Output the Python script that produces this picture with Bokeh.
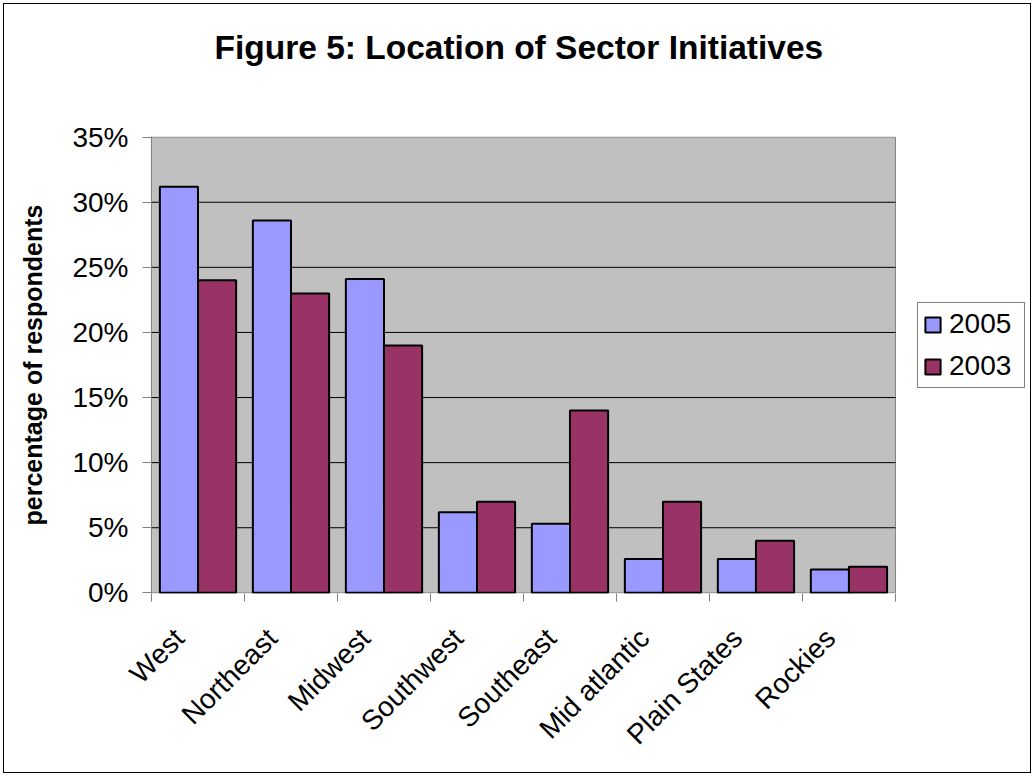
import math
from bokeh.plotting import figure
from bokeh.models import (ColumnDataSource, FixedTicker, NumeralTickFormatter, Legend,
                          LegendItem, LinearAxis, Range1d, InlineStyleSheet, Title)
from bokeh.transform import dodge
from bokeh.embed import file_html
from bokeh.resources import INLINE

# ---- data ----
categories = ["West", "Northeast", "Midwest", "Southwest", "Southeast",
              "Mid atlantic", "Plain States", "Rockies"]
series_names = ["2005", "2003"]
values_2005 = [0.312, 0.286, 0.241, 0.062, 0.053, 0.026, 0.026, 0.018]
values_2003 = [0.240, 0.230, 0.190, 0.070, 0.140, 0.070, 0.040, 0.020]
y_ticks = [0.0, 0.05, 0.10, 0.15, 0.20, 0.25, 0.30, 0.35]
title_text = "Figure 5: Location of Sector Initiatives"
y_label = "percentage of respondents"

FONT = "Liberation Sans"
GRAY = "#808080"
PLOT_BG = "#C0C0C0"

n = len(categories)
y_min, y_max = y_ticks[0], y_ticks[-1]
centers = [i + 0.5 for i in range(n)]
edges = list(range(n + 1))
legend_space = 1.42          # extra room (in category widths) right of the plot area
source = ColumnDataSource(data=dict(cat=categories, pos=centers,
                                    v2005=values_2005, v2003=values_2003))
grid_src = ColumnDataSource(data=dict(y=y_ticks[1:-1]))

pad = 0.0005
p = figure(width=1034, height=776,
           x_range=Range1d(0, n + legend_space), y_range=Range1d(y_min - pad, y_max + pad),
           output_backend="svg", toolbar_location=None, x_axis_type=None,
           min_border_left=151, min_border_right=7, min_border_top=136,
           min_border_bottom=183)
p.background_fill_color = "white"
p.border_fill_color = "white"
p.border_fill_alpha = 0
p.outline_line_color = None
p.grid.grid_line_color = None
p.stylesheets = [InlineStyleSheet(css=":host { outline: 1px solid black; outline-offset: -4px; background: white; }")]

# title (a thin spacer title between frame and main title lifts it up)
spacer = Title(text=" ", text_font_size="1px", standoff=68)
main_title = Title(text=title_text, align="left", offset=63, text_font=FONT,
                   text_font_size="33.5px", text_font_style="bold",
                   text_color="black", standoff=0)
p.title = None
p.above = [spacer, main_title]

# plot area (grey box) and gridlines, limited to the category span
p.quad(left=0, right=n, bottom=y_min, top=y_max, fill_color=PLOT_BG,
       line_color=GRAY, line_width=1)
p.segment(x0=0, x1=n, y0="y", y1="y", source=grid_src, line_color="black", line_width=1)

# bars
w = 0.41
r1 = p.vbar(x=dodge("pos", -w / 2), top="v2005", width=w, source=source,
            fill_color="#9999FF", line_color="black", line_width=2)
r2 = p.vbar(x=dodge("pos", w / 2), top="v2003", width=w, source=source,
            fill_color="#993366", line_color="black", line_width=2)

# y axis
ya = p.yaxis[0]
ya.ticker = FixedTicker(ticks=y_ticks)
ya.formatter = NumeralTickFormatter(format="0%")
ya.axis_line_color = GRAY
ya.major_tick_line_color = GRAY
ya.minor_tick_line_color = None
ya.major_tick_out = 9
ya.major_tick_in = 0
ya.major_label_standoff = 14
ya.major_label_text_font = FONT
ya.major_label_text_font_size = "28px"
ya.major_label_text_color = "black"
ya.axis_label = y_label
ya.axis_label_text_font = FONT
ya.axis_label_text_font_size = "25px"
ya.axis_label_text_font_style = "bold"
ya.axis_label_text_color = "black"
ya.axis_label_standoff = 22

# x axis: tick-only axis (ticks between categories) + label axis
ea = LinearAxis(ticker=FixedTicker(ticks=edges),
                axis_line_color=None, major_tick_line_color=GRAY,
                minor_tick_line_color=None, major_tick_out=8, major_tick_in=0,
                major_label_text_font_size="0px", major_label_standoff=0,
                major_label_text_alpha=0)
p.add_layout(ea, "below")

# label axis: same category spacing, labels set slightly left as in Excel
p.extra_x_ranges = {"labels": Range1d(0.2, n + legend_space + 0.2)}
la = LinearAxis(x_range_name="labels", ticker=FixedTicker(ticks=centers),
                major_label_overrides={c: name for c, name in zip(centers, categories)},
                axis_line_color=None, major_tick_line_color=None, minor_tick_line_color=None,
                major_label_orientation=math.pi / 4,
                major_label_text_font=FONT, major_label_text_font_size="28px",
                major_label_text_color="black", major_label_standoff=26)
p.add_layout(la, "below")

# legend
legend = Legend(items=[LegendItem(label=series_names[0], renderers=[r1]),
                       LegendItem(label=series_names[1], renderers=[r2])],
                location=(766, 205), orientation="vertical",
                label_text_font=FONT, label_text_font_size="28px",
                label_text_color="black", glyph_width=19, glyph_height=19,
                label_standoff=7, label_width=70, padding=5, spacing=10, margin=0,
                border_line_color="black", border_line_width=1,
                background_fill_color="white", background_fill_alpha=1)
p.add_layout(legend, "center")

open("out.html", "w").write(file_html(p, INLINE))
